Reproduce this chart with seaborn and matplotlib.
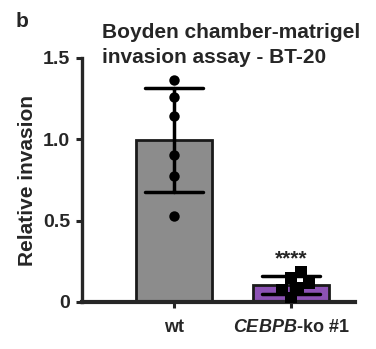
import numpy as np
import pandas as pd
import matplotlib
matplotlib.use("Agg")
import matplotlib.pyplot as plt
import seaborn as sns

# ---- data ----
categories = ["wt", "CEBPB-ko #1"]
wt_values = [1.364, 1.262, 1.143, 0.904, 0.776, 0.529]
ko_values = [0.186, 0.147, 0.117, 0.086, 0.074, 0.025]
yticks = [0, 0.5, 1.0, 1.5]
ytick_labels = ["0", "0.5", "1.0", "1.5"]
xtick_labels = ["wt", r"$\mathit{CEBPB}$-ko #1"]
title = "Boyden chamber-matrigel\ninvasion assay - BT-20"
ylabel = "Relative invasion"
signif = "****"
bar_colors = ["#8c8c8c", "#8f42c4"]

df = pd.DataFrame({
    "group": [categories[0]] * len(wt_values) + [categories[1]] * len(ko_values),
    "value": wt_values + ko_values,
})

sns.set_style("ticks")
plt.rcParams["font.family"] = ["Liberation Sans", "DejaVu Sans"]
plt.rcParams["font.weight"] = "bold"
plt.rcParams["mathtext.fontset"] = "custom"
plt.rcParams["mathtext.it"] = "Liberation Sans:italic:bold"
plt.rcParams["mathtext.rm"] = "Liberation Sans:bold"

fig = plt.figure(figsize=(3.76, 3.49), dpi=100)
ax = fig.add_axes([82 / 376, 1 - 302 / 349, (355 - 82) / 376, (302 - 58) / 349])

sns.barplot(data=df, x="group", y="value", order=categories, hue="group",
            palette=bar_colors, legend=False, errorbar="sd", capsize=0.5,
            width=0.65, edgecolor="#1a1a1a", linewidth=2,
            err_kws={"color": "black", "linewidth": 2.5}, ax=ax, zorder=2)

sns.swarmplot(data=df[df.group == categories[0]], x="group", y="value",
              order=categories, color="black", marker="o", size=7.5, ax=ax, zorder=4)
sns.swarmplot(data=df[df.group == categories[1]], x="group", y="value",
              order=categories, color="black", marker="s", size=8.5, ax=ax, zorder=4)

ko_mean = np.mean(ko_values)
ko_sd = np.std(ko_values, ddof=1)
ax.text(1, ko_mean + ko_sd + 0.045, signif, ha="center", va="bottom",
        fontsize=15, fontweight="bold")

ax.set_xlim(-0.79, 1.55)
ax.set_ylim(0, 1.5)
ax.set_yticks(yticks)
ax.set_yticklabels(ytick_labels)
ax.set_xticks([0, 1])
ax.set_xticklabels(xtick_labels)
ax.set_xlabel("")
ax.set_ylabel(ylabel, fontsize=15, fontweight="bold", labelpad=4)
ax.tick_params(axis="y", labelsize=14, width=2.2, length=4.5, pad=4)
ax.tick_params(axis="x", labelsize=13, width=2.2, length=4.5, pad=8)
for lab in ax.get_xticklabels() + ax.get_yticklabels():
    lab.set_fontweight("bold")
ax.spines["right"].set_visible(False)
ax.spines["top"].set_visible(False)
ax.spines["left"].set_linewidth(2.4)
ax.spines["bottom"].set_linewidth(3)
ax.set_facecolor("none")

fig.text(102 / 376, 1 - 23 / 349, title, ha="left", va="top",
         fontsize=15, fontweight="bold", linespacing=1.4)
fig.text(16 / 376, 1 - 12 / 349, "b", ha="left", va="top",
         fontsize=15, fontweight="bold")

fig.savefig("out.png", dpi=100)
